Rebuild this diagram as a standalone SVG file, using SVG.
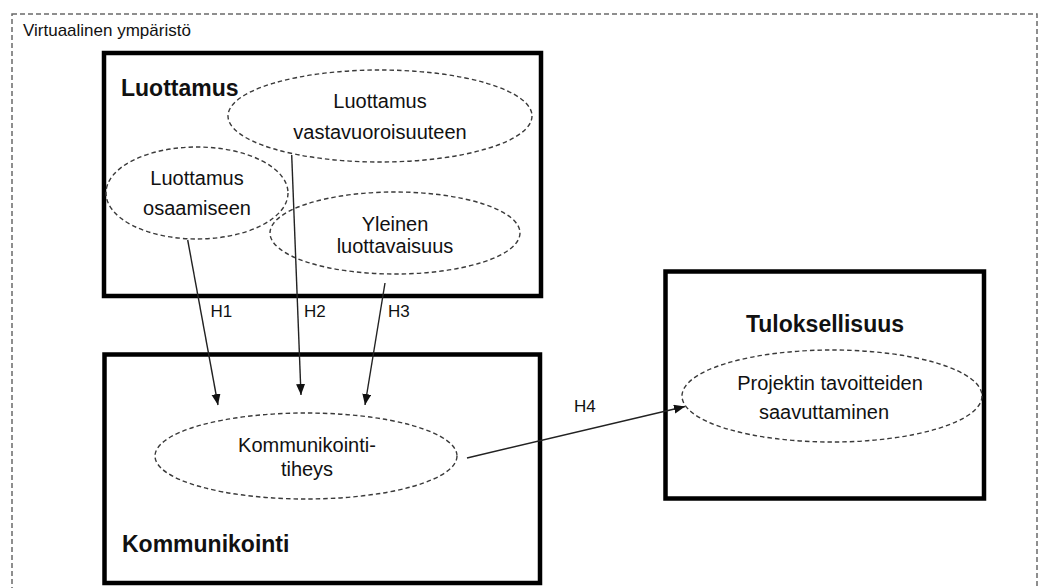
<svg xmlns="http://www.w3.org/2000/svg" width="1038" height="588" viewBox="0 0 1038 588">
  <style>
    text { font-family: "Liberation Sans", Arial, sans-serif; fill: #111; }
    .frame { fill: none; stroke: #6a6a6a; stroke-width: 1.5; stroke-dasharray: 5 3; }
    .box { fill: none; stroke: #000; stroke-width: 4.5; }
    .oval { fill: none; stroke: #3a3a3a; stroke-width: 1.4; stroke-dasharray: 4.5 3; }
    .title { font-size: 23px; font-weight: bold; }
    .lbl { font-size: 20px; text-anchor: middle; }
    .hyp { font-size: 17px; }
    .small { font-size: 17px; }
    .link { fill: none; stroke: #222; stroke-width: 1.4; }
  </style>
  <defs>
    <marker id="arrow" markerUnits="userSpaceOnUse" markerWidth="12" markerHeight="10" refX="11" refY="4.5" orient="auto">
      <path d="M0,0 L11,4.5 L0,9 Z" fill="#111"/>
    </marker>
  </defs>

  <rect width="1038" height="588" fill="#fff"/>

  <!-- surrounding environment -->
  <g id="environment">
    <rect class="frame" x="12" y="14" width="1025" height="600"/>
    <text class="small" x="23" y="36">Virtuaalinen ympäristö</text>
  </g>

  <!-- trust construct -->
  <g id="luottamus">
    <rect class="box" x="104" y="53" width="437" height="243"/>
    <text class="title" x="121" y="96">Luottamus</text>
  </g>
  <g id="luottamus-vastavuoroisuuteen">
    <ellipse class="oval" cx="380" cy="116" rx="152" ry="46"/>
    <text class="lbl" x="380" y="108">Luottamus</text>
    <text class="lbl" x="380" y="139">vastavuoroisuuteen</text>
  </g>
  <g id="luottamus-osaamiseen">
    <ellipse class="oval" cx="197" cy="193" rx="91" ry="46"/>
    <text class="lbl" x="197" y="185">Luottamus</text>
    <text class="lbl" x="197" y="215">osaamiseen</text>
  </g>
  <g id="yleinen-luottavaisuus">
    <ellipse class="oval" cx="395" cy="233" rx="125" ry="41"/>
    <text class="lbl" x="395" y="231">Yleinen</text>
    <text class="lbl" x="395" y="253">luottavaisuus</text>
  </g>

  <!-- communication construct -->
  <g id="kommunikointi">
    <rect class="box" x="104.5" y="354.5" width="435.5" height="228.5"/>
    <text class="title" x="122" y="552">Kommunikointi</text>
  </g>
  <g id="kommunikointitiheys">
    <ellipse class="oval" cx="306" cy="456" rx="151" ry="43"/>
    <text class="lbl" x="307" y="452">Kommunikointi-</text>
    <text class="lbl" x="307" y="476">tiheys</text>
  </g>

  <!-- outcome construct -->
  <g id="tuloksellisuus">
    <rect class="box" x="665.5" y="271.5" width="318.5" height="227"/>
    <text class="title" x="825" y="332" text-anchor="middle">Tuloksellisuus</text>
  </g>
  <g id="projektin-tavoitteet">
    <ellipse class="oval" cx="832" cy="396" rx="150" ry="46"/>
    <text class="lbl" x="830" y="390">Projektin tavoitteiden</text>
    <text class="lbl" x="824" y="419">saavuttaminen</text>
  </g>

  <!-- hypothesis links -->
  <g id="connectors">
    <line class="link" x1="187.7" y1="240" x2="218" y2="405" marker-end="url(#arrow)"/>
    <line class="link" x1="291.7" y1="155" x2="301" y2="395" marker-end="url(#arrow)"/>
    <line class="link" x1="385" y1="283" x2="365" y2="405" marker-end="url(#arrow)"/>
    <line class="link" x1="467" y1="458" x2="685" y2="406.5" marker-end="url(#arrow)"/>
    <text class="hyp" x="210.5" y="317">H1</text>
    <text class="hyp" x="304" y="317">H2</text>
    <text class="hyp" x="388" y="317">H3</text>
    <text class="hyp" x="574" y="411.5">H4</text>
  </g>
</svg>
